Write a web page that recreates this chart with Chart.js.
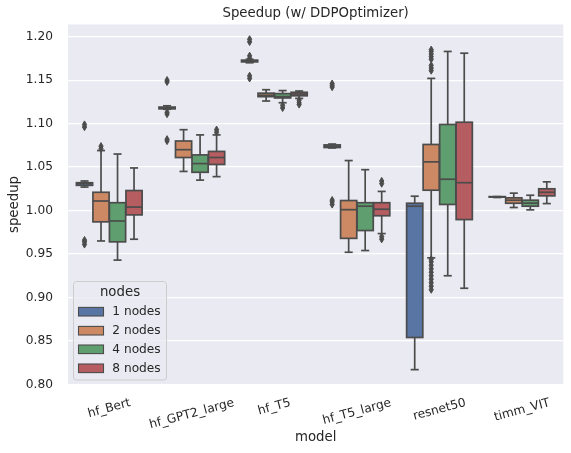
<!DOCTYPE html>
<html>
<head>
<meta charset="utf-8">
<script src="https://cdn.jsdelivr.net/npm/chart.js@4.4.1/dist/chart.umd.min.js"></script>
<style>
  html, body { margin: 0; padding: 0; background: #ffffff; }
  #wrap { width: 571px; height: 453px; position: relative; }
</style>
</head>
<body>
<div id="wrap"><canvas id="c" width="571" height="453"></canvas></div>
<script>
// ---- data ----
const categories = ['hf_Bert', 'hf_GPT2_large', 'hf_T5', 'hf_T5_large', 'resnet50', 'timm_VIT'];
const hueLabels = ['1 nodes', '2 nodes', '4 nodes', '8 nodes'];
const hueColors = ['#5875a4', '#cc8963', '#5f9e6e', '#b55d60'];
const yTicks = [0.80, 0.85, 0.90, 0.95, 1.00, 1.05, 1.10, 1.15, 1.20];

// per hue (rows) x per category (columns)
const whiskerLow = [
  [1.027, 1.1165, 1.170, 1.072, 0.817, 1.0150],
  [0.965, 1.045, 1.126, 0.952, 0.9456, 1.0035],
  [0.943, 1.035, 1.124, 0.954, 0.925, 1.0008],
  [0.967, 1.039, 1.129, 0.9735, 0.9106, 1.008]
];
const q1 = [
  [1.029, 1.117, 1.171, 1.0725, 0.854, 1.0155],
  [0.987, 1.061, 1.131, 0.968, 1.0234, 1.0084],
  [0.964, 1.044, 1.1295, 0.977, 1.007, 1.005],
  [0.995, 1.053, 1.132, 0.994, 0.9896, 1.0169]
];
const median = [
  [1.031, 1.118, 1.172, 1.074, 1.005, 1.0157],
  [1.011, 1.070, 1.1326, 1.001, 1.056, 1.0119],
  [0.988, 1.054, 1.131, 1.005, 1.036, 1.0085],
  [1.004, 1.061, 1.134, 1.0015, 1.032, 1.021]
];
const q3 = [
  [1.032, 1.119, 1.173, 1.0755, 1.0084, 1.016],
  [1.021, 1.080, 1.135, 1.0115, 1.076, 1.0146],
  [1.009, 1.064, 1.1345, 1.009, 1.099, 1.0119],
  [1.023, 1.068, 1.136, 1.009, 1.1016, 1.025]
];
const whiskerHigh = [
  [1.034, 1.1205, 1.174, 1.0765, 1.0165, 1.016],
  [1.069, 1.093, 1.139, 1.0575, 1.152, 1.020],
  [1.065, 1.087, 1.138, 1.047, 1.183, 1.0176],
  [1.049, 1.087, 1.1375, 1.022, 1.181, 1.033]
];
const outliers = [
  [[1.096, 1.099, 0.961, 0.964, 0.966], [1.111, 1.113, 1.148, 1.150, 1.080, 1.082], [1.175, 1.178, 1.194, 1.197, 1.152, 1.155], [1.142, 1.144, 1.146, 1.007, 1.010, 1.012], [], []],
  [[1.071, 1.074], [], [], [], [1.161, 1.164, 1.167, 1.174, 1.177, 1.180, 1.183, 1.185, 0.909, 0.913, 0.917, 0.921, 0.925, 0.929, 0.933, 0.937, 0.941, 0.944], []],
  [[], [], [1.118, 1.121], [], [], []],
  [[], [1.090, 1.093], [1.122, 1.124, 1.127], [1.031, 1.034, 0.967, 0.970], [], []]
];

// ---- styling ----
const LINE = '#4c4c4c';
const TEXT = '#262626';
const FONT = "'DejaVu Sans', sans-serif";
Chart.defaults.font.family = FONT;
Chart.defaults.color = TEXT;

const datasets = hueLabels.map((lab, h) => ({
  label: lab,
  data: categories.map((_, c) => [q1[h][c], q3[h][c]]),
  backgroundColor: hueColors[h],
  borderWidth: 0,
  borderSkipped: false,
  categoryPercentage: 0.8,
  barPercentage: 0.98
}));

const bgPlugin = {
  id: 'plotBg',
  beforeDraw(chart) {
    const a = chart.chartArea, ctx = chart.ctx;
    ctx.save();
    ctx.fillStyle = '#eaeaf2';
    ctx.fillRect(a.left, a.top, a.right - a.left, a.bottom - a.top);
    ctx.restore();
    // center rotated x tick labels like matplotlib
    const s = chart.scales.x;
    const items = s.getLabelItems();
    if (!items._fixed) {
      const rot = 15 * Math.PI / 180;
      items.forEach((it, i) => {
        ctx.save();
        ctx.font = it.font.string;
        const w = ctx.measureText(it.label).width;
        ctx.restore();
        const hgt = it.font.size * 1.15;
        const x = s.getPixelForTick(i);
        const cy = s.top + 11.5 + (w * Math.sin(rot) + hgt * Math.cos(rot)) / 2;
        const o = it.options || it;
        o.translation = [x, cy];
        o.textAlign = 'center';
        o.textBaseline = 'middle';
        it.textOffset = 0;
      });
      items._fixed = true;
    }
  }
};

function diamond(ctx, x, y) {
  ctx.beginPath();
  ctx.moveTo(x, y - 3.6);
  ctx.lineTo(x + 2.1, y);
  ctx.lineTo(x, y + 3.6);
  ctx.lineTo(x - 2.1, y);
  ctx.closePath();
  ctx.fill();
  ctx.stroke();
}

const boxPlugin = {
  id: 'boxWhiskers',
  afterDatasetsDraw(chart) {
    const ctx = chart.ctx, ys = chart.scales.y;
    ctx.save();
    ctx.strokeStyle = LINE;
    ctx.fillStyle = LINE;
    ctx.lineWidth = 1.7;
    ctx.lineCap = 'butt';
    const seg = (x1, y1, x2, y2) => { ctx.beginPath(); ctx.moveTo(x1, y1); ctx.lineTo(x2, y2); ctx.stroke(); };
    chart.data.datasets.forEach((ds, h) => {
      const meta = chart.getDatasetMeta(h);
      meta.data.forEach((el, c) => {
        const p = el.getProps(['x', 'width'], true);
        const x = p.x, half = p.width / 2, cap = p.width / 4;
        const pLo = ys.getPixelForValue(whiskerLow[h][c]);
        const pQ1 = ys.getPixelForValue(q1[h][c]);
        const pMed = ys.getPixelForValue(median[h][c]);
        const pQ3 = ys.getPixelForValue(q3[h][c]);
        const pHi = ys.getPixelForValue(whiskerHigh[h][c]);
        seg(x, pQ3, x, pHi);
        seg(x, pQ1, x, pLo);
        seg(x - cap, pHi, x + cap, pHi);
        seg(x - cap, pLo, x + cap, pLo);
        ctx.strokeRect(x - half, pQ3, 2 * half, pQ1 - pQ3);
        seg(x - half, pMed, x + half, pMed);
        ctx.save();
        ctx.lineWidth = 1;
        outliers[h][c].forEach(v => diamond(ctx, x, ys.getPixelForValue(v)));
        ctx.restore();
      });
    });
    ctx.restore();
  },
  afterDraw(chart) {
    const ctx = chart.ctx;
    ctx.save();
    const lx = 73.5, ly = 281.5, lw = 93, lh = 98.5;
    ctx.fillStyle = 'rgba(234,234,242,0.8)';
    ctx.strokeStyle = '#cccccc';
    ctx.lineWidth = 1;
    ctx.beginPath();
    if (ctx.roundRect) ctx.roundRect(lx, ly, lw, lh, 3); else ctx.rect(lx, ly, lw, lh);
    ctx.fill();
    ctx.stroke();
    ctx.fillStyle = TEXT;
    ctx.textBaseline = 'middle';
    ctx.textAlign = 'center';
    ctx.font = "13.3px " + FONT;
    ctx.fillText('nodes', 120, 293);
    ctx.textAlign = 'left';
    ctx.font = "12.2px " + FONT;
    const rows = [311.7, 330.7, 349.3, 368.3];
    hueLabels.forEach((lab, h) => {
      ctx.fillStyle = hueColors[h];
      ctx.fillRect(78.5, rows[h] - 4.3, 25, 8.6);
      ctx.strokeStyle = LINE;
      ctx.lineWidth = 1.1;
      ctx.strokeRect(78.5, rows[h] - 4.3, 25, 8.6);
      ctx.fillStyle = TEXT;
      ctx.fillText(lab, 112.3, rows[h] + 0.5);
    });
    ctx.restore();
  }
};

new Chart(document.getElementById('c'), {
  type: 'bar',
  data: { labels: categories, datasets },
  plugins: [bgPlugin, boxPlugin],
  options: {
    responsive: false,
    animation: false,
    devicePixelRatio: 1,
    layout: { padding: { left: 0, right: 7.7, top: 0, bottom: 0 } },
    plugins: {
      legend: { display: false },
      tooltip: { enabled: false },
      title: {
        display: true,
        text: 'Speedup (w/ DDPOptimizer)',
        color: TEXT,
        fullSize: false,
        font: { size: 13.3, weight: 'normal', family: FONT },
        padding: { top: 6, bottom: 2.54 }
      }
    },
    scales: {
      x: {
        grid: { display: false },
        border: { display: false },
        ticks: { color: TEXT, font: { size: 12.2 }, minRotation: 15, maxRotation: 15, padding: 3 },
        title: { display: true, text: 'model', color: TEXT, font: { size: 13.3 }, padding: { top: 0, bottom: 7 } },
        afterFit: (s) => { s.height = 68.5; }
      },
      y: {
        min: 0.7999,
        max: 1.214,
        grid: { color: '#ffffff', lineWidth: 1.2, drawTicks: false },
        border: { display: false },
        afterBuildTicks: (s) => { s.ticks = yTicks.map(v => ({ value: v })); },
        ticks: {
          color: TEXT,
          font: { size: 12.2 },
          padding: 15,
          callback: (v) => Number(v).toFixed(2)
        },
        title: { display: true, text: 'speedup', color: TEXT, font: { size: 13.3 }, padding: { top: 7, bottom: 0 } },
        afterFit: (s) => { s.width = 68; }
      }
    }
  }
});
</script>
</body>
</html>
